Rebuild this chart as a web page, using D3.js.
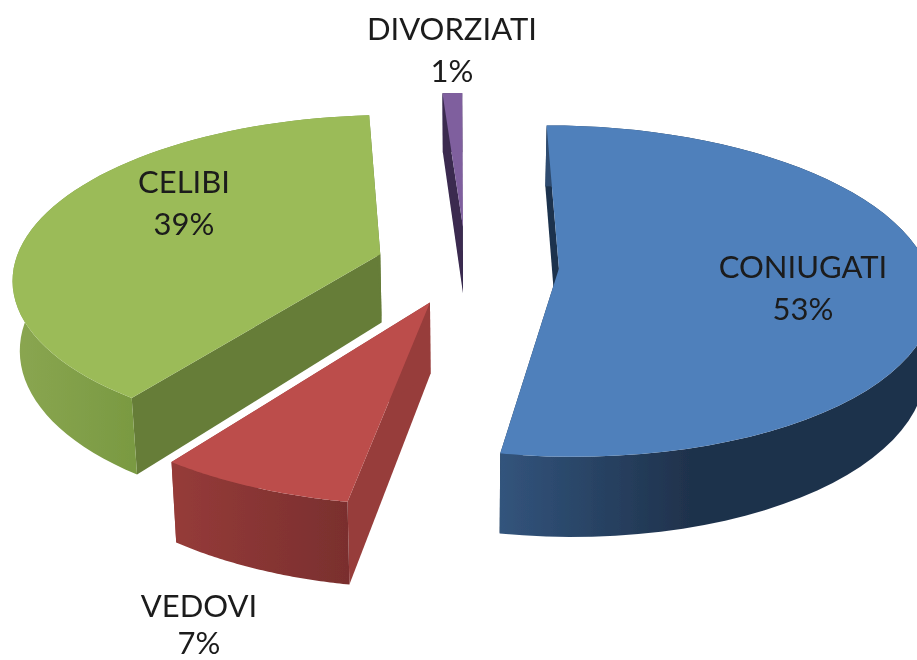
<!DOCTYPE html>
<html><head><meta charset="utf-8">
<script src="https://cdn.jsdelivr.net/npm/d3@7"></script>
<style>html,body{margin:0;padding:0;background:#fff}svg{display:block}</style>
</head><body><div id="chart"></div>
<script>
const categories = ["CONIUGATI", "VEDOVI", "CELIBI", "DIVORZIATI"];
const values = [52.8, 7.2, 39.0, 1.0];
const percentLabels = ["53%", "7%", "39%", "1%"];

const topColors  = ["#4f80bb", "#bc4e4c", "#9bbb59", "#7f5f9e"];
const wallColors = ["#1f334d", "#973d3b", "#667d39", "#3a2c50"];
const rimStops = [
  [[500,"#32547c"],[690,"#1f324c"],[917,"#1f324c"]],
  [[175,"#953b39"],[347,"#7a2f2e"]],
  [[15,"#8aa651"],[130,"#7a9a42"]],
  [[440,"#3a2c50"],[465,"#3a2c50"]]
];
const labelCentres = [[803,278],[199,617],[184,193],[452,40]];
const percentGaps = [42, 37, 42, 42];
const explosions = [93, 90, 90, 90];
const radii = [368, 372, 366, 368];

const W = 917, H = 660;
const cx = 466, thick = 69, bottomShrink = 0.016, rotation = -0.2 * Math.PI / 180;
const camera = 2700, horizon = -921, lift = 1186;

const svg = d3.select("#chart").append("svg").attr("width", W).attr("height", H);
const defs = svg.append("defs");
defs.append("filter").attr("id","soft").attr("x","-5%").attr("y","-5%").attr("width","110%").attr("height","110%")
  .append("feGaussianBlur").attr("stdDeviation",0.45);
rimStops.forEach((st,i)=>{
  const g = defs.append("linearGradient").attr("id","rim"+i).attr("gradientUnits","userSpaceOnUse")
    .attr("x1",st[0][0]).attr("x2",st[st.length-1][0]).attr("y1",0).attr("y2",0);
  const a = st[0][0], b = st[st.length-1][0];
  st.forEach(s=>g.append("stop").attr("offset",(s[0]-a)/(b-a)).attr("stop-color",s[1]));
});

// perspective projection of a ground point (u right, v away), z = 0 top face, 1 bottom face
function project(u, v, z) {
  const s = camera / (camera + v);
  return [cx + u * s * (1 - bottomShrink * z), horizon + (lift + z * thick) * s];
}
const pie = d3.pie().sort(null).value(d => d).startAngle(rotation).endAngle(2*Math.PI+rotation)(values);
const line = d3.line();
const root = svg.append("g").attr("filter","url(#soft)");

function slice(i) {
  const a0 = pie[i].startAngle, a1 = pie[i].endAngle, mid = (a0+a1)/2;
  const radius = radii[i], explode = explosions[i];
  const ou = explode*Math.sin(mid), ov = explode*Math.cos(mid);
  const arcAngles = d3.range(0,61).map(k => a0 + (a1-a0)*k/60);
  const at = (a,z) => project(ou+radius*Math.sin(a), ov+radius*Math.cos(a), z);
  const apex = z => project(ou, ov, z);
  const topArc = arcAngles.map(a=>at(a,0)), botArc = arcAngles.map(a=>at(a,1));
  const g = root.append("g");
  const poly = (pts, fill) => g.append("path").attr("d", line(pts)+"Z").attr("fill",fill);
  poly([apex(0),at(a0,0),at(a0,1),apex(1)], wallColors[i]);
  poly([apex(0),at(a1,0),at(a1,1),apex(1)], wallColors[i]);
  poly(topArc.concat(botArc.slice().reverse()), `url(#rim${i})`);
  poly([apex(0)].concat(topArc), topColors[i]);
}
[3,2,0,1].forEach(slice);

const txt = svg.append("g").attr("font-family","Lato, 'Open Sans', sans-serif").attr("font-size",31)
  .attr("fill","#1a1a1a").attr("text-anchor","middle").attr("filter","url(#soft)");
categories.forEach((c,i)=>{
  const [x,y] = labelCentres[i];
  txt.append("text").attr("x",x).attr("y",y).text(c);
  txt.append("text").attr("x",x).attr("y",y+percentGaps[i]).text(percentLabels[i]);
});
</script></body></html>
